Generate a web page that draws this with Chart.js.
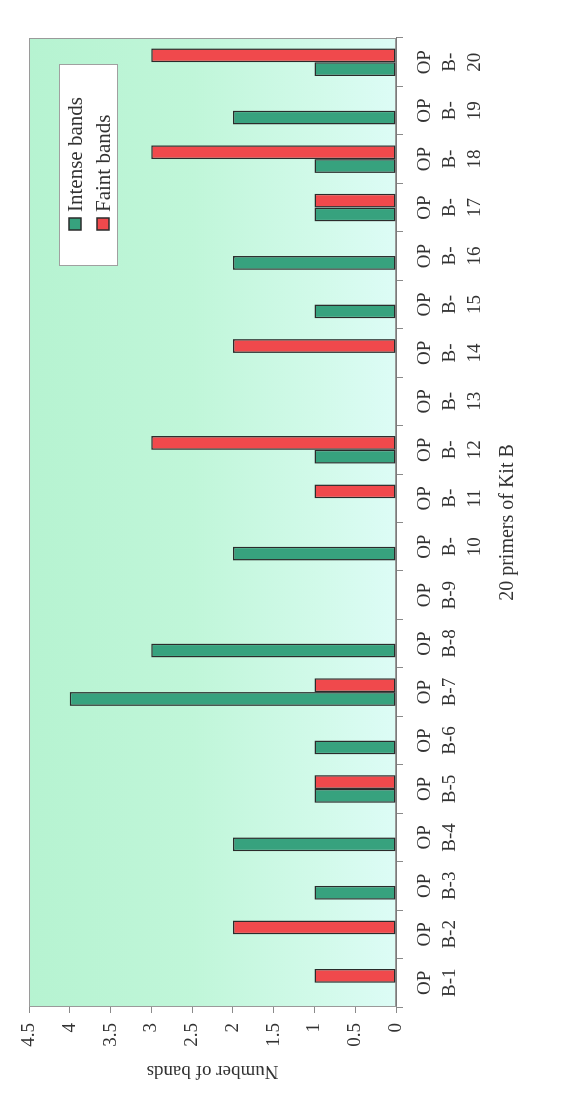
<!DOCTYPE html>
<html>
<head>
<meta charset="utf-8">
<script src="https://cdn.jsdelivr.net/npm/chart.js@4.4.1/dist/chart.umd.min.js"></script>
<style>
  html, body { margin: 0; padding: 0; background: #ffffff; }
  #outer { position: relative; width: 581px; height: 1094px; overflow: hidden; background: #ffffff; }
  #rot { position: absolute; left: 0; top: 0; width: 1094px; height: 581px;
         transform-origin: 0 0; transform: translate(0px, 1094px) rotate(-90deg); }
</style>
</head>
<body>
<div id="outer">
  <div id="rot"><canvas id="c" width="1094" height="581"></canvas></div>
</div>
<script>
// ---- data ----
const categories = [
  ["OP","B-1"], ["OP","B-2"], ["OP","B-3"], ["OP","B-4"], ["OP","B-5"],
  ["OP","B-6"], ["OP","B-7"], ["OP","B-8"], ["OP","B-9"], ["OP","B-","10"],
  ["OP","B-","11"], ["OP","B-","12"], ["OP","B-","13"], ["OP","B-","14"], ["OP","B-","15"],
  ["OP","B-","16"], ["OP","B-","17"], ["OP","B-","18"], ["OP","B-","19"], ["OP","B-","20"]
];
const intenseBands = [0, 0, 1, 2, 1, 1, 4, 3, 0, 2, 0, 1, 0, 0, 1, 2, 1, 1, 2, 1];
const faintBands   = [1, 2, 0, 0, 1, 0, 1, 0, 0, 0, 1, 3, 0, 2, 0, 0, 1, 3, 0, 3];
const seriesNames = ["Intense bands", "Faint bands"];
const valueTickLabels = ["0", "0.5", "1", "1.5", "2", "2.5", "3", "3.5", "4", "4.5"];
const xTitle = "20 primers of Kit B";
const yTitle = "Number of bands";

// ---- styles ----
const SERIF = "'Liberation Serif', 'DejaVu Serif', serif";
const TEXT = '#333333';
const GREEN = '#37a27e';
const RED = '#f0494c';
const EDGE = '#2b2b2b';

const panelPlugin = {
  id: 'panel',
  beforeDatasetsDraw(chart) {
    const {ctx, chartArea: a} = chart;
    ctx.save();
    const g = ctx.createLinearGradient(0, a.top, 0, a.bottom);
    g.addColorStop(0, '#b6f3d1');
    g.addColorStop(0.45, '#c0f6d9');
    g.addColorStop(0.8, '#d2faea');
    g.addColorStop(1, '#ddfcf6');
    ctx.fillStyle = g;
    ctx.fillRect(a.left, a.top, a.right - a.left, a.bottom - a.top);
    ctx.strokeStyle = '#9a9a9a';
    ctx.lineWidth = 1;
    ctx.strokeRect(a.left + 0.5, a.top + 0.5, a.right - a.left - 1, a.bottom - a.top - 1);
    ctx.restore();
  },
  afterDatasetsDraw(chart) {
    const {ctx} = chart;
    const ds = chart.data.datasets;
    const bx = 828, by = 59, bw = 202, bh = 59;
    ctx.save();
    ctx.fillStyle = '#ffffff';
    ctx.fillRect(bx, by, bw, bh);
    ctx.strokeStyle = '#a0a0a0';
    ctx.lineWidth = 1;
    ctx.strokeRect(bx + 0.5, by + 0.5, bw - 1, bh - 1);
    const rows = [75, 103];
    ctx.font = "21px " + SERIF;
    ctx.textBaseline = 'middle';
    ctx.textAlign = 'left';
    ds.forEach((d, i) => {
      const cy = rows[i];
      ctx.fillStyle = d.backgroundColor;
      ctx.fillRect(864, cy - 6, 12, 12);
      ctx.strokeStyle = EDGE;
      ctx.lineWidth = 1.5;
      ctx.strokeRect(864, cy - 6, 12, 12);
      ctx.fillStyle = TEXT;
      ctx.fillText(d.label, 882, cy + 1);
    });
    ctx.restore();
  }
};

new Chart(document.getElementById('c'), {
  type: 'bar',
  data: {
    labels: categories,
    datasets: [
      { label: seriesNames[0], data: intenseBands, backgroundColor: GREEN,
        borderColor: EDGE, borderWidth: 1.5, borderSkipped: false },
      { label: seriesNames[1], data: faintBands, backgroundColor: RED,
        borderColor: EDGE, borderWidth: 1.5, borderSkipped: false }
    ]
  },
  options: {
    responsive: false,
    animation: false,
    devicePixelRatio: 1,
    layout: { padding: { top: 29, right: 38, left: 0, bottom: 0 } },
    plugins: { legend: { display: false }, tooltip: { enabled: false } },
    datasets: { bar: { categoryPercentage: 0.57, barPercentage: 1.0 } },
    scales: {
      x: {
        offset: true,
        grid: { display: true, drawOnChartArea: false, drawTicks: true, tickLength: 7,
                color: '#8a8a8a', offset: true },
        border: { display: true, color: '#7a7a7a', width: 1 },
        ticks: { color: TEXT, padding: 10, maxRotation: 0, minRotation: 0, autoSkip: false,
                 font: { family: SERIF, size: 19, lineHeight: '25px' } },
        title: { display: true, text: xTitle, color: TEXT,
                 font: { family: SERIF, size: 20, lineHeight: 1.2 },
                 padding: { top: 0, bottom: 61 } },
        afterFit(scale) { scale.height = 185; }
      },
      y: {
        min: 0, max: 4.5,
        grid: { display: true, drawOnChartArea: false, drawTicks: true, tickLength: 6,
                color: '#8a8a8a' },
        border: { display: true, color: '#8a8a8a', width: 1 },
        ticks: { stepSize: 0.5, color: TEXT, padding: 10,
                 font: { family: SERIF, size: 19 },
                 callback: (v, i) => valueTickLabels[i] },
        title: { display: true, text: yTitle, color: TEXT,
                 font: { family: SERIF, size: 19, lineHeight: 1.2 },
                 padding: { top: 12, bottom: 0 } },
        afterFit(scale) { scale.width = 87; }
      }
    }
  },
  plugins: [panelPlugin]
});
</script>
</body>
</html>
